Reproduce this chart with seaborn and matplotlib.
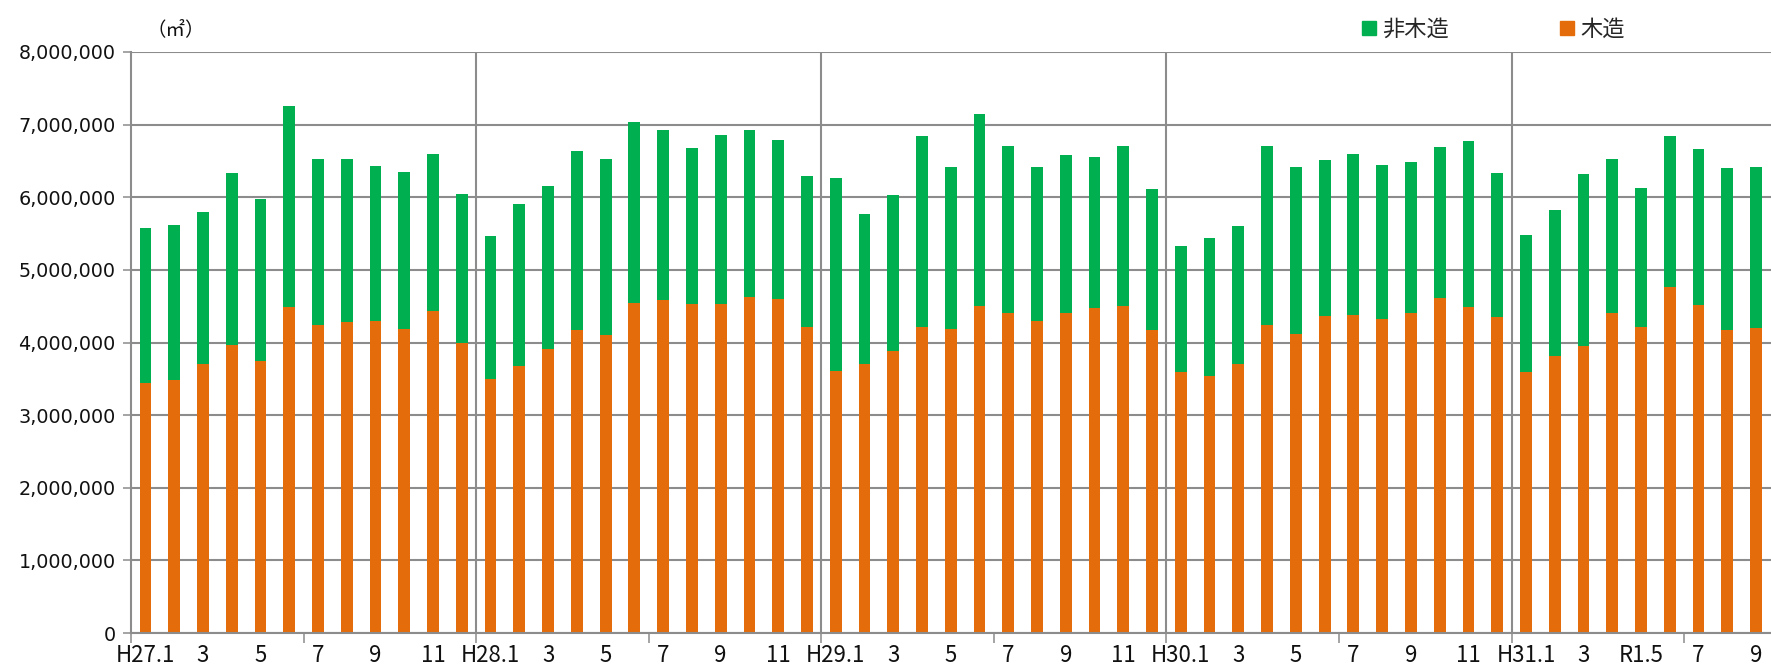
import seaborn as sns
import pandas as pd
import numpy as np
import matplotlib.pyplot as plt
import matplotlib.patches as mpatches
from matplotlib.ticker import FuncFormatter

# monthly floor area (m2), H27.1 - R1.9
wood = [3440000, 3490000, 3700000, 3970000, 3750000, 4490000, 4240000, 4280000, 4300000, 4180000, 4430000, 3990000,
        3500000, 3670000, 3910000, 4170000, 4110000, 4550000, 4580000, 4530000, 4530000, 4620000, 4600000, 4210000,
        3610000, 3700000, 3880000, 4220000, 4190000, 4500000, 4410000, 4300000, 4410000, 4470000, 4500000, 4170000,
        3590000, 3540000, 3710000, 4240000, 4120000, 4360000, 4375000, 4330000, 4400000, 4610000, 4490000, 4350000,
        3600000, 3820000, 3950000, 4410000, 4210000, 4760000, 4510000, 4170000, 4205000]
non_wood = [2140000, 2130000, 2090000, 2360000, 2230000, 2770000, 2280000, 2250000, 2130000, 2170000, 2170000, 2060000,
            1960000, 2240000, 2240000, 2470000, 2410000, 2490000, 2340000, 2150000, 2325000, 2300000, 2195000, 2080000,
            2650000, 2070000, 2150000, 2630000, 2220000, 2650000, 2290000, 2110000, 2170000, 2080000, 2210000, 1940000,
            1740000, 1900000, 1890000, 2460000, 2290000, 2150000, 2215000, 2120000, 2080000, 2080000, 2280000, 1990000,
            1880000, 2010000, 2370000, 2120000, 1915000, 2090000, 2150000, 2230000, 2205000]
year_labels = ['H27.1', 'H28.1', 'H29.1', 'H30.1', 'H31.1']
month_labels = ['3', '5', '7', '9', '11']
series_names = ['非木造', '木造']

green = '#00B050'
orange = '#E46C0A'
grid_c = '#8c8c8c'

df = pd.DataFrame({'idx': np.arange(len(wood)), 'wood': wood, 'non_wood': non_wood})
df['total'] = df['wood'] + df['non_wood']

# tick labels at odd months
ticklabels = []
for y in year_labels:
    ticklabels.append(y)
    ticklabels.extend(month_labels)
ticklabels = ticklabels[:len(range(0, len(wood), 2))]
ticklabels[26] = 'R1.5'

sns.set_theme(style='white')
plt.rcParams['font.family'] = ['Noto Sans CJK JP', 'DejaVu Sans']

fig = plt.figure(figsize=(17.71, 6.70), dpi=100)
ax = fig.add_axes([0.074, 0.0552, 0.926, 0.8672])

sns.barplot(data=df, x='idx', y='total', color=green, saturation=1, width=0.41, linewidth=0, ax=ax)
sns.barplot(data=df, x='idx', y='wood', color=orange, saturation=1, width=0.41, linewidth=0, ax=ax)

ax.set_xlim(-0.5, len(wood) - 0.48)
ax.set_ylim(0, 8000000)
ax.set_xlabel('')
ax.set_ylabel('')

ax.set_axisbelow(True)
ax.yaxis.grid(True, color=grid_c, linewidth=1.5)
ax.set_yticks(np.arange(0, 8000001, 1000000))
ax.yaxis.set_major_formatter(FuncFormatter(lambda v, p: '{:,.0f}'.format(v)))
for lab in ax.get_yticklabels():
    lab.set_family('DejaVu Sans')
    lab.set_fontsize(13.8)
    lab.set_color('#111111')
ax.tick_params(axis='y', left=True, length=6, width=1.1, color=grid_c, pad=5)

for b in [11.5, 23.5, 35.5, 47.5]:
    ax.axvline(b, color=grid_c, linewidth=1.5, zorder=0.5)

ax.set_xticks(np.arange(0, len(wood), 2))
ax.set_xticklabels(ticklabels, family=['Noto Sans CJK JP', 'DejaVu Sans'], fontsize=16, color='#111111')
ax.set_xticks(np.arange(-0.5, len(wood), 6), minor=True)
ax.tick_params(axis='x', which='major', length=0, pad=8)
ax.tick_params(axis='x', which='minor', bottom=True, length=7, width=1.1, color=grid_c)

for s in ['top', 'right']:
    ax.spines[s].set_visible(False)
for s in ['left', 'bottom']:
    ax.spines[s].set_color(grid_c)
    ax.spines[s].set_linewidth(1.5)

patches = [mpatches.Patch(color=green, label=series_names[0]),
           mpatches.Patch(color=orange, label=series_names[1])]
fig.legend(handles=patches, loc='center left', bbox_to_anchor=(0.758, 0.956), ncol=2, frameon=False,
           fontsize=16, handlelength=0.6, handleheight=0.6, handletextpad=0.3, columnspacing=5.0)

fig.text(0.083, 0.956, '（㎡）', fontsize=14, ha='left', va='center', color='#111111')

plt.savefig('out.png', dpi=100)
